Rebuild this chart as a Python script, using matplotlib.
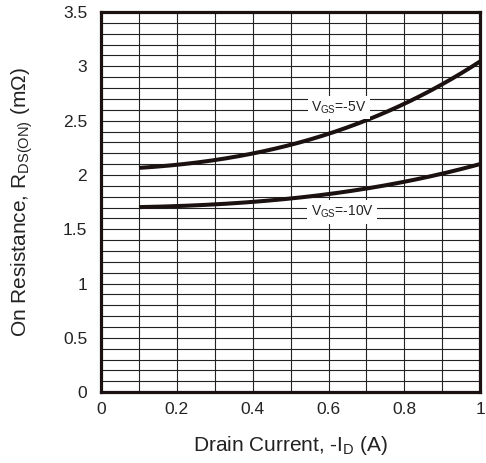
import numpy as np
import matplotlib.pyplot as plt

plt.rcParams['font.family'] = ['Liberation Sans', 'DejaVu Sans']
plt.rcParams['mathtext.fontset'] = 'custom'
plt.rcParams['mathtext.rm'] = 'Liberation Sans'
plt.rcParams['mathtext.it'] = 'Liberation Sans'

# drain current (A) and on resistance (mOhm)
current = [0.1, 0.2, 0.3, 0.4, 0.5, 0.6, 0.7, 0.8, 0.9, 1.0]
r_vgs5 = [2.06, 2.10, 2.14, 2.20, 2.27, 2.38, 2.49, 2.67, 2.84, 3.04]
r_vgs10 = [1.70, 1.72, 1.73, 1.75, 1.78, 1.82, 1.88, 1.94, 2.01, 2.10]

xticks = [0, 0.2, 0.4, 0.6, 0.8, 1]
yticks = [0, 0.5, 1, 1.5, 2, 2.5, 3, 3.5]
xtick_labels = ['0', '0.2', '0.4', '0.6', '0.8', '1']
ytick_labels = ['0', '0.5', '1', '1.5', '2', '2.5', '3', '3.5']

fig = plt.figure(figsize=(4.86, 4.63), dpi=100)
ax = fig.add_axes([0.208, 0.153, 0.78, 0.821])

# smooth curves through the read points
xs = np.linspace(0.1, 1.0, 200)
c5 = np.polyfit(current, r_vgs5, 3)
c10 = np.polyfit(current, r_vgs10, 3)
ax.plot(xs, np.polyval(c5, xs), color='#1a1110', lw=2.9, solid_capstyle='butt', zorder=3)
ax.plot(xs, np.polyval(c10, xs), color='#1a1110', lw=2.9, solid_capstyle='butt', zorder=3)

ax.set_xlim(0, 1)
ax.set_ylim(0, 3.5)
ax.set_xticks(xticks)
ax.set_xticklabels(xtick_labels)
ax.set_yticks(yticks)
ax.set_yticklabels(ytick_labels)
ax.set_xticks(np.arange(0, 1.01, 0.1), minor=True)
ax.set_yticks(np.arange(0, 3.51, 0.1), minor=True)
ax.grid(which='both', color='#222222', lw=0.8)
ax.set_axisbelow(True)
ax.tick_params(which='both', length=0, labelsize=12.5, colors='#222222')
ax.tick_params(axis='x', pad=7)
ax.tick_params(axis='y', pad=10)
for s in ax.spines.values():
    s.set_linewidth(2.3)
    s.set_color('#1a1110')

box = dict(facecolor='white', edgecolor='none', pad=2.5)
ax.text(0.628, 2.62, r'V$_{\mathrm{GS}}$=-5V', fontsize=10, ha='center', va='center',
        bbox=box, zorder=4, color='#222222')
ax.text(0.636, 1.66, r'V$_{\mathrm{GS}}$=-10V', fontsize=10, ha='center', va='center',
        bbox=box, zorder=4, color='#222222')

ax.set_xlabel(r'Drain Current, -I$_{\mathrm{D}}$ (A)', fontsize=15, color='#222222')
ax.set_ylabel(r'On Resistance, R$_{\mathrm{DS(ON)}}$ (m$\Omega$)', fontsize=15,
              color='#222222')
ax.xaxis.set_label_coords(0.5, -0.11)
ax.yaxis.set_label_coords(-0.175, 0.5)

fig.savefig('out.png', dpi=100)
